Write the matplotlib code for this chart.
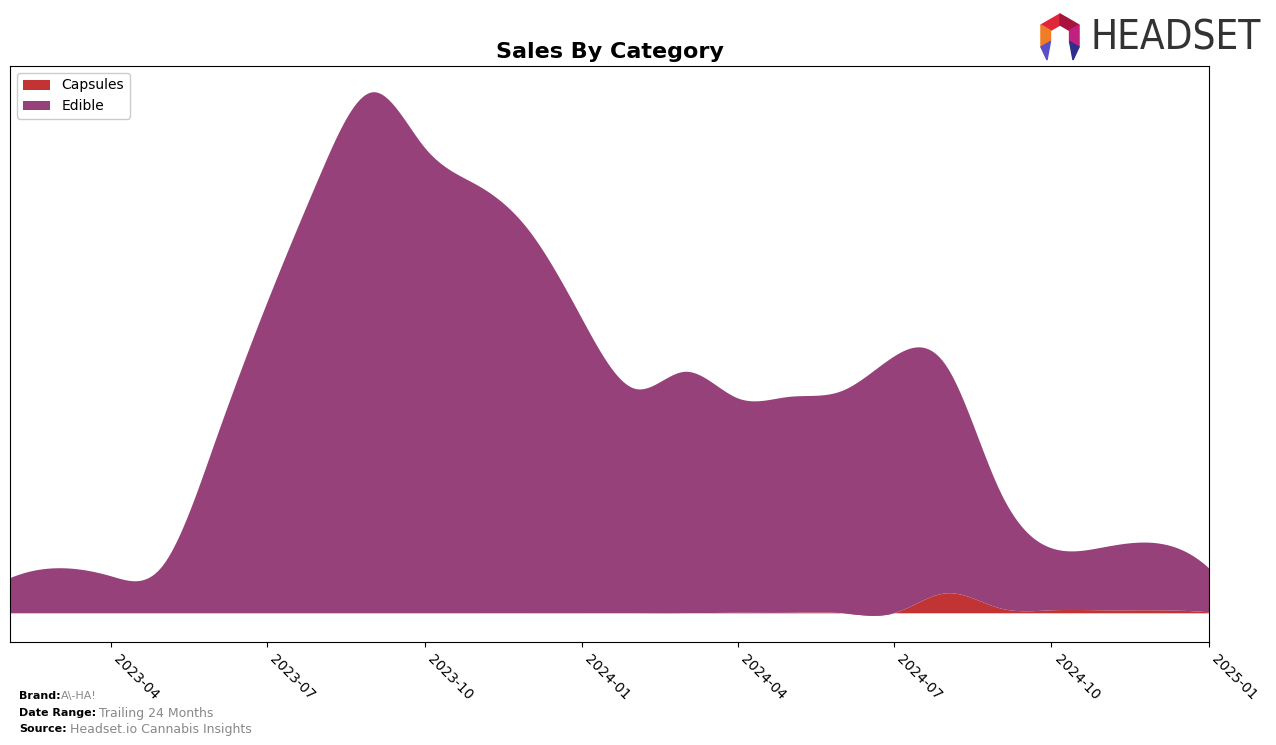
import numpy as np
import pandas as pd
import matplotlib
matplotlib.use("Agg")
import matplotlib.pyplot as plt
import matplotlib.dates as mdates
from matplotlib.patches import Polygon

# ---- data (monthly, arbitrary sales units) ----
months = pd.date_range("2023-02-01", "2025-01-01", freq="MS")
capsules = [0, 0, 0, 0, 0, 0, 0, 0, 0, 0, 0, 0, 0, 0, 0.5, 0.5, 0, 0, 20, 5, 3, 3, 3, 1]
edible = [35, 45, 37, 47, 172, 309, 437, 520, 465, 427, 382, 294,
          224, 241, 214, 215.5, 222, 256, 226, 117, 62, 63, 67, 44]
categories = ["Capsules", "Edible"]
colors = ["#C23434", "#964179"]


def cubic_spline(x, y, xs):
    """Not-a-knot cubic spline interpolation (numpy only)."""
    x = np.asarray(x, float)
    y = np.asarray(y, float)
    n = len(x) - 1
    h = np.diff(x)
    A = np.zeros((n + 1, n + 1))
    b = np.zeros(n + 1)
    A[0, 0], A[0, 1], A[0, 2] = h[1], -(h[0] + h[1]), h[0]
    A[n, n - 2], A[n, n - 1], A[n, n] = h[n - 1], -(h[n - 2] + h[n - 1]), h[n - 2]
    for i in range(1, n):
        A[i, i - 1] = h[i - 1]
        A[i, i] = 2 * (h[i - 1] + h[i])
        A[i, i + 1] = h[i]
        b[i] = 6 * ((y[i + 1] - y[i]) / h[i] - (y[i] - y[i - 1]) / h[i - 1])
    M = np.linalg.solve(A, b)
    idx = np.clip(np.searchsorted(x, xs) - 1, 0, n - 1)
    x0, x1 = x[idx], x[idx + 1]
    hh = x1 - x0
    return (M[idx] * (x1 - xs) ** 3 / (6 * hh) + M[idx + 1] * (xs - x0) ** 3 / (6 * hh)
            + (y[idx] / hh - M[idx] * hh / 6) * (x1 - xs)
            + (y[idx + 1] / hh - M[idx + 1] * hh / 6) * (xs - x0))


xnum = mdates.date2num(months.to_pydatetime())
xs = np.linspace(xnum[0], xnum[-1], 600)
cap_s = cubic_spline(xnum, capsules, xs)
edi_s = cubic_spline(xnum, edible, xs)

fig = plt.figure(figsize=(12.76, 7.45), dpi=100)
ax = fig.add_axes([10 / 1276, 1 - 642 / 745, (1209 - 10) / 1276, (642 - 66) / 745])

ax.stackplot(mdates.num2date(xs), cap_s, edi_s, labels=categories, colors=colors)
ax.set_xlim(mdates.num2date(xnum[0]), mdates.num2date(xnum[-1]))
ax.set_yticks([])
ax.xaxis.set_major_locator(mdates.MonthLocator(bymonth=[1, 4, 7, 10]))
ax.xaxis.set_major_formatter(mdates.DateFormatter("%Y-%m"))
for lab in ax.get_xticklabels():
    lab.set_rotation(-45)
    lab.set_ha("left")
    lab.set_va("top")
    lab.set_fontsize(10)

ax.set_title("Sales By Category", fontsize=16, fontweight="bold", pad=6)
ax.legend(loc="upper left", fontsize=10, framealpha=1)

# footer
fig.text(19 / 1276, 1 - 696 / 745, "Brand:", fontsize=8, fontweight="bold", va="center")
fig.text(61 / 1276, 1 - 696 / 745, "A\\-HA!", fontsize=8, color="#888888", va="center")
fig.text(19 / 1276, 1 - 713 / 745, "Date Range:", fontsize=8, fontweight="bold", va="center")
fig.text(99 / 1276, 1 - 713 / 745, "Trailing 24 Months", fontsize=9, color="#888888", va="center")
fig.text(19 / 1276, 1 - 729 / 745, "Source:", fontsize=8, fontweight="bold", va="center")
fig.text(70 / 1276, 1 - 729 / 745, "Headset.io Cannabis Insights", fontsize=9, color="#888888", va="center")

# logo
fig.text(1091 / 1276, 1 - 39 / 745, "HEADSET", fontsize=29, color="#333333",
         va="center", ha="left", family="DejaVu Sans", fontstretch="condensed")


def P(pts):
    return [(px / 1276, 1 - py / 745) for px, py in pts]


cx, cy = 1060, 36
ro, ri = 22, 11
ang = np.deg2rad([90, 30, -30, -90, -150, 150])
outer = [(cx + ro * np.cos(a), cy - ro * np.sin(a)) for a in ang]
inner = [(cx + ri * np.cos(a), cy - ri * np.sin(a)) for a in ang]
segs = [(5, 0, "#E0263A"), (0, 1, "#A8123E"), (4, 5, "#F07C25"), (1, 2, "#C0207E")]
for i, j, c in segs:
    fig.patches.append(Polygon(P([outer[i], outer[j], inner[j], inner[i]]),
                               closed=True, transform=fig.transFigure, color=c))
fig.patches.append(Polygon(P([outer[4], inner[4], (1047, 60)]), closed=True,
                           transform=fig.transFigure, color="#5A4FC8"))
fig.patches.append(Polygon(P([outer[2], inner[2], (1073, 60)]), closed=True,
                           transform=fig.transFigure, color="#2E2E8C"))

fig.savefig("out.png", dpi=100)
